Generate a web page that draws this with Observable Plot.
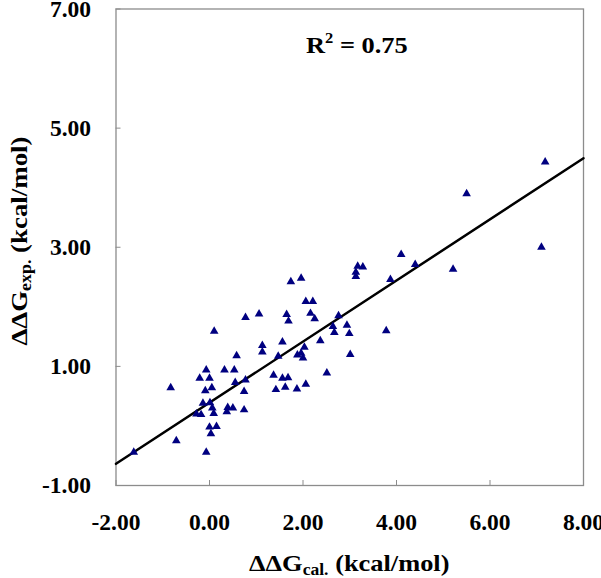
<!DOCTYPE html>
<html><head><meta charset="utf-8">
<script src="https://cdn.jsdelivr.net/npm/d3@7"></script>
<script src="https://cdn.jsdelivr.net/npm/@observablehq/plot@0.6"></script>
<style>body{margin:0;background:#fff} svg text{font-family:"Liberation Serif","Times New Roman",Tinos,serif;}</style>
</head><body>
<script>
// ΔΔG calculated (x) and experimental (y), kcal/mol
const calc = [-1.62,-0.83,-0.71,-0.07,0.10,0.77,1.06,1.65,1.69,1.74,1.96,1.13,1.13,1.56,1.47,0.58,-0.07,0.32,0.53,-0.21,0.00,-0.09,0.05,0.55,0.77,0.74,1.37,1.56,1.68,1.62,1.42,-0.14,0.01,0.06,0.09,-0.28,-0.18,0.39,0.50,0.37,0.74,0.00,0.15,0.03,2.03,1.88,1.96,2.00,1.87,2.06,2.06,2.21,2.16,2.25,2.76,2.64,2.67,2.94,2.99,2.37,2.51,3.01,3.78,3.13,3.17,3.28,3.13,3.87,4.10,4.40,5.21,5.50,7.10,7.18];
const expt = [-0.44,0.64,-0.25,-0.44,1.59,1.82,1.88,1.87,1.76,2.42,2.48,1.35,1.24,1.41,1.17,1.18,0.94,0.94,0.94,0.80,0.80,0.59,0.64,0.73,0.77,0.58,0.85,0.80,0.81,0.65,0.61,0.38,0.39,0.30,0.21,0.20,0.19,0.31,0.30,0.24,0.27,-0.02,-0.01,-0.13,1.32,1.19,1.22,1.14,0.62,0.70,2.09,2.09,1.89,1.80,1.85,1.67,1.57,1.69,1.55,1.43,0.89,1.20,1.60,2.58,2.68,2.67,2.51,2.46,2.88,2.71,2.63,3.90,3.00,4.43];
const xTicks = [-2, 0, 2, 4, 6, 8];
const yTicks = [-1, 1, 3, 5, 7];
const xDomain = [-2, 8];
const yDomain = [-1, 7];
const fitSlope = 0.513;
const fitIntercept = 0.39;
const rSquaredLabel = "0.75";

const points = calc.map((x, i) => ({x, y: expt[i]}));
const fitLine = xDomain.map(x => ({x, y: fitSlope * x + fitIntercept}));
const font = "Liberation Serif, Times New Roman, Tinos, serif";
const fmt = d => d.toFixed(2);

const chart = Plot.plot({
  width: 601, height: 578,
  marginLeft: 115.5, marginRight: 18, marginTop: 8.5, marginBottom: 93,
  style: {fontFamily: font, fontSize: "23.5px", fontWeight: "bold", background: "#fff", color: "#000"},
  x: {domain: xDomain},
  y: {domain: yDomain},
  marks: [
    Plot.frame({stroke: "#8c8c8c", strokeWidth: 1.3}),
    Plot.axisX({ticks: xTicks, tickSize: 0, tickPadding: 28, tickFormat: fmt, label: null, fontSize: 23.5, fontWeight: "bold", fill: "#000"}),
    Plot.axisX({ticks: xTicks, tickSize: -5, text: null, label: null, stroke: "#8c8c8c"}),
    Plot.axisY({ticks: yTicks, tickSize: 0, tickPadding: 25, tickFormat: fmt, label: null, fontSize: 23.5, fontWeight: "bold", fill: "#000"}),
    Plot.axisY({ticks: yTicks, tickSize: -5, text: null, label: null, stroke: "#8c8c8c"}),
    Plot.line(fitLine, {x: "x", y: "y", stroke: "#000", strokeWidth: 2.5}),
    Plot.dot(points, {x: "x", y: "y", symbol: "triangle", r: 3.2, fill: "#000080", stroke: "none"})
  ]
});
document.body.appendChild(chart);

const svg = d3.select(chart);
const xr = chart.scale("x").range;

function styled(sel) {
  return sel.style("font-size", "24px").style("font-weight", "bold").attr("fill", "#000");
}

// x-axis title
const xt = styled(svg.append("text")
  .attr("transform", `translate(${(xr[0] + xr[1]) / 2},571) scale(1.1,1)`)
  .attr("text-anchor", "middle"));
xt.append("tspan").text("ΔΔG");
xt.append("tspan").attr("dy", 4).style("font-size", "16px").text("cal.");
xt.append("tspan").attr("dy", -4).text(" (kcal/mol)");

// y-axis title
const yt = styled(svg.append("text")
  .attr("transform", `translate(27,241) rotate(-90) scale(1.12,1)`)
  .attr("text-anchor", "middle"));
yt.append("tspan").text("ΔΔG");
yt.append("tspan").attr("dy", 4).style("font-size", "16px").text("exp.");
yt.append("tspan").attr("dy", -4).text(" (kcal/mol)");

// R² annotation
const rt = styled(svg.append("text")
  .attr("transform", "translate(306,53) scale(1.1,1)")
  .attr("text-anchor", "start"));
rt.append("tspan").text("R");
rt.append("tspan").attr("dy", -10).style("font-size", "15px").text("2");
rt.append("tspan").attr("dy", 10).text(" = " + rSquaredLabel);
</script>
</body></html>
